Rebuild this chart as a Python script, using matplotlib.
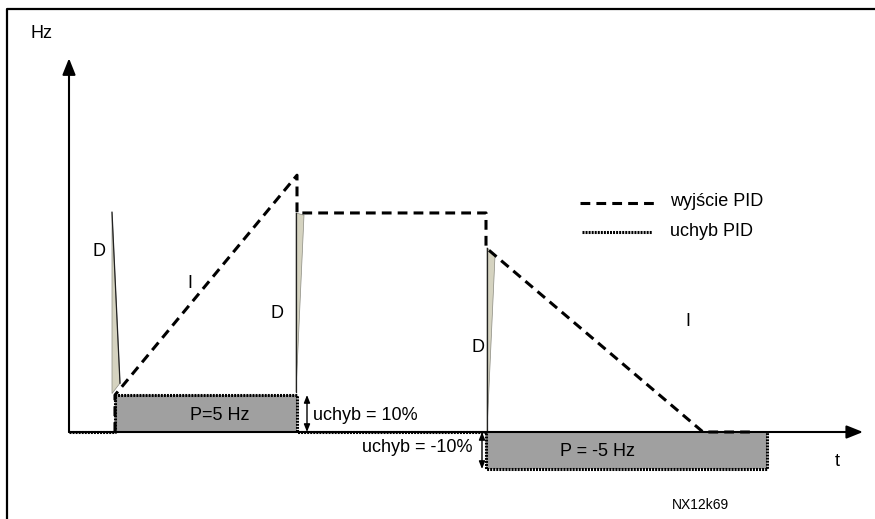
import matplotlib
matplotlib.use("Agg")
import matplotlib.pyplot as plt
from matplotlib.patches import Polygon

plt.rcParams['font.family'] = ['Liberation Sans', 'DejaVu Sans']

# --- data (t in arbitrary time units, values in Hz) ---
t_on, t_off, t_neg, t_end = 4.6, 22.8, 41.7, 69.8
p_gain = 5.0                        # P = 5 Hz for 10 % error

# PID output (dashed)
pid_t = [t_on, t_on, t_off, t_off, t_neg, t_neg, 63.4, 68.6]
pid_hz = [0.0, 5.0, 34.7, 29.6, 29.6, 24.9, 0.0, 0.0]

# PID error (dotted), drawn in Hz of the P part
err_t = [0.0, t_on, t_on, t_off, t_off, t_neg, t_neg, t_end, t_end]
err_hz = [0.0, 0.0, 5.0, 5.0, 0.0, 0.0, -5.0, -5.0, 0.0]

# D spikes (wedges)
d_spikes = [
    [(4.3, 29.7), (4.3, 5.2), (5.1, 6.6)],
    [(22.7, 29.6), (23.5, 29.3), (22.7, 5.4)],
    [(41.8, 24.9), (42.6, 23.8), (41.8, 0.1)],
]

t_axis_end, hz_axis_end = 79.4, 50.5

# --- layout: pixel -> data helpers ---
W, H = 875, 519
X0, Y0 = 69, 432       # pixel of origin
SX, SY = 10.0, 7.4     # px per unit


def px(x, y):
    return (x - X0) / SX, (Y0 - y) / SY


fig = plt.figure(figsize=(W / 100, H / 100), dpi=100)
ax = fig.add_axes([0, 0, 1, 1])
ax.set_xlim(-X0 / SX, (W - X0) / SX)
ax.set_ylim(-(H - Y0) / SY, Y0 / SY)
ax.axis("off")

# outer frame (left and top only visible)
fx, fy = zip(px(7, H), px(7, 9), px(W, 9))
ax.plot(fx, fy, color="black", lw=1.6, solid_capstyle="projecting")

# gray P bands
ax.fill_between(err_t, err_hz, 0, color="#a0a0a0", lw=0, zorder=1)

# D wedges
for pts in d_spikes:
    ax.add_patch(Polygon(pts, closed=True, facecolor="#d5d3c0",
                         edgecolor="#8a8a80", lw=0.5, zorder=2))
    ex, ey = zip(pts[0], pts[2])
    ax.plot(ex, ey, color="#222222", lw=0.9, zorder=3)

# axes with arrows
arrow = dict(arrowstyle="-|>,head_length=0.55,head_width=0.22",
             lw=1.5, color="black", mutation_scale=18, shrinkA=0, shrinkB=0)
ax.annotate("", xy=(t_axis_end, 0), xytext=(0, 0), arrowprops=arrow, zorder=4)
ax.annotate("", xy=(0, hz_axis_end), xytext=(0, 0), arrowprops=arrow, zorder=4)

# error (dotted) and output (dashed)
dotted = (0, (0.65, 0.35))
dashed = (0, (3.2, 2))
ax.plot(err_t, err_hz, color="black", lw=2.2, linestyle=dotted,
        dash_capstyle="butt", zorder=5)
ax.plot(pid_t, pid_hz, color="black", lw=2.2, linestyle=dashed,
        dash_capstyle="butt", zorder=6)

# error magnitude arrows
small = dict(arrowstyle="<|-|>,head_length=0.5,head_width=0.2",
             lw=1.0, color="black", mutation_scale=9, shrinkA=0, shrinkB=0)
ax.annotate("", xy=(px(307, 0)[0], p_gain), xytext=(px(307, 0)[0], 0),
            arrowprops=small, zorder=7)
ax.annotate("", xy=(px(482, 0)[0], -p_gain), xytext=(px(482, 0)[0], 0),
            arrowprops=small, zorder=7)

# legend
lx0, ly = px(580, 203)
lx1, _ = px(657, 203)
ax.plot([lx0, lx1], [ly, ly], color="black", lw=2.2, linestyle=dashed,
        dash_capstyle="butt")
lx0, ly2 = px(582, 232)
lx1, _ = px(652, 232)
ax.plot([lx0, lx1], [ly2, ly2], color="black", lw=2.2, linestyle=dotted,
        dash_capstyle="butt")

fs = 13
labels = [
    ("Hz", 31, 33, "left"),
    ("D", 99, 252, "center"),
    ("I", 190, 283, "center"),
    ("D", 277, 314, "center"),
    ("P=5 Hz", 220, 416, "center"),
    ("uchyb = 10%", 313, 415, "left"),
    ("uchyb = -10%", 472, 448, "right"),
    ("D", 478, 347, "center"),
    ("I", 688, 322, "center"),
    ("P = -5 Hz", 598, 451, "center"),
    ("wyjście PID", 670, 202, "left"),
    ("uchyb PID", 670, 231, "left"),
    ("t", 837, 461, "center"),
]
for s, x, y, ha in labels:
    ax.text(*px(x, y), s, fontsize=fs, ha=ha, va="center", zorder=8)
ax.text(*px(700, 505), "NX12k69", fontsize=10, ha="center", va="center")

fig.savefig("out.png", dpi=100)
